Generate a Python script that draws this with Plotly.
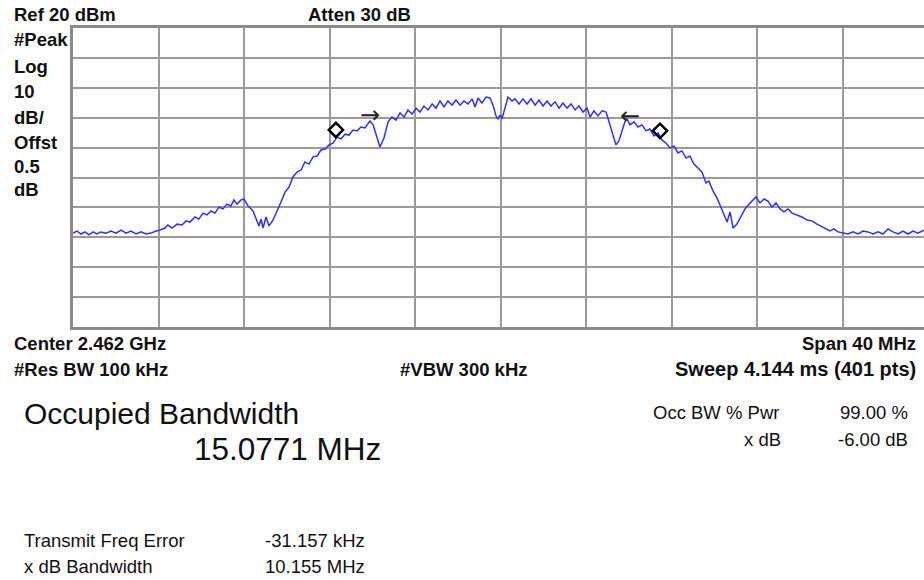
import plotly.graph_objects as go

# ---- data ----
freq_mhz = [2442.00, 2442.19, 2442.37, 2442.56, 2442.75, 2442.94, 2443.12, 2443.31, 2443.54, 2443.78,
            2444.01, 2444.25, 2444.48, 2444.71, 2444.95, 2445.18, 2445.42, 2445.65, 2445.88, 2446.07,
            2446.30, 2446.44, 2446.63, 2446.87, 2447.10, 2447.29, 2447.47, 2447.71, 2447.89, 2448.08,
            2448.27, 2448.46, 2448.64, 2448.83, 2449.02, 2449.20, 2449.39, 2449.53, 2449.67, 2449.86,
            2450.00, 2450.19, 2450.42, 2450.61, 2450.70, 2450.80, 2450.89, 2451.03, 2451.17, 2451.36,
            2451.54, 2451.73, 2451.92, 2452.11, 2452.29, 2452.48, 2452.67, 2452.85, 2453.04, 2453.23,
            2453.42, 2453.60, 2453.79, 2453.98, 2454.16, 2454.35, 2454.54, 2454.73, 2454.91, 2455.10,
            2455.29, 2455.47, 2455.66, 2455.89, 2456.04, 2456.18, 2456.36, 2456.55, 2456.74, 2456.92,
            2457.11, 2457.30, 2457.49, 2457.67, 2457.86, 2458.05, 2458.23, 2458.42, 2458.61, 2458.80,
            2458.98, 2459.17, 2459.36, 2459.54, 2459.73, 2459.92, 2460.11, 2460.29, 2460.48, 2460.67,
            2460.81, 2460.95, 2461.13, 2461.32, 2461.51, 2461.65, 2461.79, 2461.88, 2461.98, 2462.07,
            2462.21, 2462.35, 2462.54, 2462.68, 2462.87, 2463.05, 2463.24, 2463.43, 2463.62, 2463.80,
            2463.99, 2464.18, 2464.36, 2464.55, 2464.74, 2464.92, 2465.11, 2465.30, 2465.49, 2465.67,
            2465.86, 2466.05, 2466.19, 2466.37, 2466.56, 2466.75, 2466.94, 2467.08, 2467.22, 2467.40,
            2467.54, 2467.68, 2467.82, 2467.92, 2468.06, 2468.25, 2468.43, 2468.62, 2468.81, 2468.99,
            2469.18, 2469.37, 2469.56, 2469.74, 2469.93, 2470.12, 2470.30, 2470.49, 2470.68, 2470.86,
            2471.05, 2471.24, 2471.43, 2471.61, 2471.75, 2471.94, 2472.13, 2472.27, 2472.41, 2472.60,
            2472.74, 2472.88, 2473.06, 2473.25, 2473.44, 2473.63, 2473.81, 2473.95, 2474.14, 2474.33,
            2474.51, 2474.70, 2474.89, 2475.08, 2475.26, 2475.45, 2475.64, 2475.87, 2476.10, 2476.34,
            2476.57, 2476.81, 2477.04, 2477.23, 2477.41, 2477.60, 2477.79, 2478.02, 2478.26, 2478.49,
            2478.73, 2478.96, 2479.19, 2479.43, 2479.66, 2479.89, 2480.13, 2480.36, 2480.60, 2480.83,
            2481.06, 2481.30, 2481.53, 2481.81]
level_dbm = [-48.6, -47.9, -48.9, -48.2, -49.2, -48.2, -48.9, -48.2, -48.6, -47.9,
             -48.6, -47.6, -48.6, -47.9, -48.9, -48.2, -48.9, -48.6, -47.9, -47.6,
             -46.9, -45.9, -46.9, -45.6, -45.9, -44.5, -44.9, -43.2, -43.9, -41.9,
             -42.5, -41.2, -41.9, -39.9, -40.5, -38.9, -39.5, -37.5, -38.9, -37.5,
             -37.2, -39.5, -41.2, -44.2, -46.2, -43.9, -46.9, -43.2, -46.2, -44.2,
             -41.5, -38.2, -34.9, -33.2, -29.8, -28.2, -27.5, -24.8, -25.5, -23.1,
             -22.8, -20.8, -20.5, -19.1, -18.5, -16.5, -17.1, -15.5, -15.8, -14.1,
             -14.4, -13.1, -13.4, -11.1, -12.4, -15.8, -19.8, -16.8, -11.4, -9.8,
             -10.8, -8.4, -9.8, -7.4, -8.8, -6.8, -8.1, -6.1, -7.4, -5.4,
             -6.8, -4.4, -6.4, -4.4, -5.8, -4.1, -5.8, -4.4, -5.4, -3.7,
             -6.4, -3.4, -5.1, -3.1, -3.4, -5.8, -9.4, -10.4, -9.1, -10.4,
             -6.8, -3.1, -4.4, -3.7, -5.4, -3.7, -5.4, -3.7, -5.8, -4.1,
             -6.1, -4.4, -6.1, -4.7, -6.8, -5.1, -6.8, -5.4, -7.4, -6.1,
             -8.1, -6.8, -9.8, -7.7, -9.4, -7.7, -8.1, -11.4, -15.5, -19.1,
             -17.8, -14.4, -11.4, -10.4, -12.4, -11.4, -13.1, -12.4, -14.4, -13.8,
             -16.1, -15.1, -17.5, -18.5, -20.1, -19.5, -21.8, -21.1, -23.5, -22.8,
             -25.5, -26.8, -28.2, -31.8, -31.2, -34.5, -36.9, -39.2, -41.9, -44.9,
             -41.5, -46.9, -45.6, -43.2, -40.5, -38.9, -37.5, -36.5, -38.5, -37.2,
             -37.9, -39.9, -38.5, -40.5, -41.5, -40.5, -41.9, -42.5, -43.2, -44.2,
             -44.5, -45.6, -46.6, -47.2, -47.9, -47.2, -48.2, -48.6, -48.9, -48.2,
             -48.9, -47.9, -48.2, -48.9, -48.2, -48.9, -47.2, -48.2, -48.9, -47.9,
             -48.9, -47.9, -48.6, -47.6]

obw_marker_freq = [2454.30, 2469.46]
obw_marker_level = [-14.1, -14.4]
xdb_arrow_freq = [2455.89, 2468.06]
xdb_arrow_level = [-9.1, -9.4]
xdb_arrow_text = ["→", "←"]

center_mhz = 2462.0
span_mhz = 40.0
ref_level = 20.0
db_per_div = 10.0
n_div = 10

# ---- figure ----
W, H = 924, 580
L, T, B = 73, 28, 327
R_VIS = 924
full_px = 855.0  # 10 divisions width in px
f_start = center_mhz - span_mhz / 2
f_end_vis = f_start + span_mhz * (R_VIS - L) / full_px

fig = go.Figure()
fig.add_trace(go.Scatter(x=freq_mhz, y=level_dbm, mode="lines",
                         line=dict(color="#2f2fff", width=1.5), hoverinfo="skip"))
fig.add_trace(go.Scatter(x=obw_marker_freq, y=obw_marker_level, mode="markers",
                         marker=dict(symbol="diamond-open", size=11, color="black",
                                     line=dict(width=2.5, color="black")), hoverinfo="skip"))

annotations = []
for fx, ly, tx in zip(xdb_arrow_freq, xdb_arrow_level, xdb_arrow_text):
    annotations.append(dict(x=fx, y=ly, xref="x", yref="y", text=tx, showarrow=False,
                            font=dict(family="DejaVu Sans", size=24, color="#222")))

def px2paper(px, py):
    return (px - L) / (R_VIS - L), (B - py) / (B - T)

def label(text, px, py, anchor="left", size=18.5, bold=False, family="Liberation Sans"):
    xp, yp = px2paper(px, py)
    t = f"<b>{text}</b>" if bold else text
    annotations.append(dict(x=xp, y=yp, xref="paper", yref="paper", text=t, showarrow=False,
                            xanchor=anchor, yanchor="middle",
                            font=dict(family=family, size=size, color="#111")))

label(f"Ref {ref_level:.0f} dBm", 12, 14, bold=True)
label("Atten 30 dB", 306, 14, bold=True)
for txt, yy in zip(["#Peak", "Log", f"{db_per_div:.0f}", "dB/", "Offst", "0.5", "dB"],
                   [40, 66, 91, 117, 142, 166, 189]):
    label(txt, 12, yy, bold=True)

label("Center 2.462 GHz", 12, 343, bold=True)
label("Span 40 MHz", 918, 343, anchor="right", bold=True)
label("#Res BW 100 kHz", 12, 369, bold=True)
label("#VBW 300 kHz", 398, 369, bold=True)
label("Sweep 4.144 ms (401 pts)", 918, 369, anchor="right", bold=True, size=20)

label("Occupied Bandwidth", 22, 413, size=30)
label("15.0771 MHz", 192, 449, size=31.5)
label("Occ BW % Pwr", 651, 412, size=18.5)
label("99.00 %", 910, 412, anchor="right", size=18.5)
label("x dB", 783, 439, anchor="right", size=18.5)
label("-6.00 dB", 910, 439, anchor="right", size=18.5)

label("Transmit Freq Error", 22, 540, size=18.5)
label("-31.157 kHz", 263, 540, size=18.5)
label("x dB Bandwidth", 22, 566, size=18.5)
label("10.155 MHz", 263, 566, size=18.5)

grid_col = "#9a9a9a"
fig.update_layout(
    width=W, height=H,
    margin=dict(l=L, r=W - R_VIS, t=T, b=H - B, pad=0),
    paper_bgcolor="white", plot_bgcolor="white",
    showlegend=False,
    annotations=annotations,
    xaxis=dict(range=[f_start, f_end_vis], tick0=f_start, dtick=span_mhz / n_div,
               showgrid=True, gridcolor=grid_col, gridwidth=2,
               showticklabels=False, ticks="", zeroline=False,
               showline=True, linecolor="#8a8a8a", linewidth=3, mirror=True),
    yaxis=dict(range=[ref_level - db_per_div * n_div, ref_level], tick0=ref_level, dtick=db_per_div,
               showgrid=True, gridcolor=grid_col, gridwidth=2,
               showticklabels=False, ticks="", zeroline=False,
               showline=True, linecolor="#8a8a8a", linewidth=3, mirror=False),
)

fig.write_html("out.html", config={"displayModeBar": False},
               post_script="document.body.style.margin='0';document.body.style.overflow='hidden';")
